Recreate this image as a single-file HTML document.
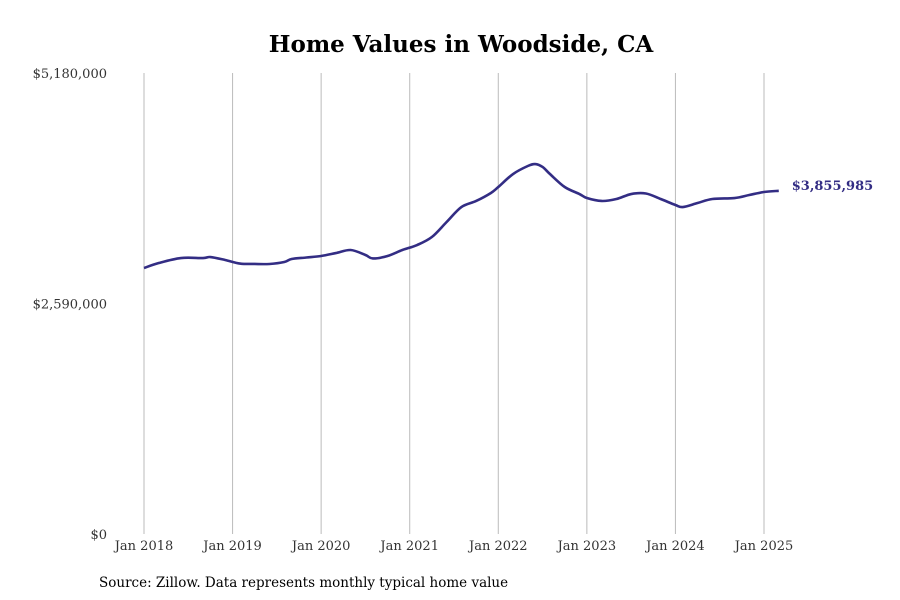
<!DOCTYPE html>
<html><head><meta charset="utf-8"><style>
body{margin:0;background:#fff;}
svg{display:block;font-family:"DejaVu Serif","Liberation Serif",serif;}
</style></head><body>
<svg id="chart" width="900" height="600" viewBox="0 0 900 600">
<text x="461" y="52" text-anchor="middle" font-size="23" font-weight="bold" fill="#000">Home Values in Woodside, CA</text>
<g id="grid"></g>
<g id="yaxis"></g>
<g id="xaxis"></g>
<path id="line" fill="none" stroke="#332d84" stroke-width="2.6" stroke-linejoin="round"/>
<text id="endlabel" font-size="13" font-weight="bold" fill="#332d84"></text>
<text x="99" y="587" font-size="13.5" fill="#000">Source: Zillow. Data represents monthly typical home value</text>
</svg>
<script>
const months=[0,2,5,8,9,11,13,15,17,19,20,22,24,26,28,30,31,33,35,37,39,41,43,45,47,48,50,52,53,54,55,57,59,60,62,64,66,68,70,72,73,75,77,80,82,84,86];
const values=[2989,3045,3101,3101,3112,3079,3039,3034,3034,3056,3090,3107,3124,3157,3191,3135,3096,3124,3191,3247,3337,3506,3674,3742,3832,3899,4045,4135,4157,4124,4045,3899,3820,3775,3742,3764,3820,3826,3764,3697,3674,3719,3764,3775,3809,3843,3856];
const yTicks=[0,2590000,5180000];
const yTickLabels=["$0","$2,590,000","$5,180,000"];
const xTickYears=[2018,2019,2020,2021,2022,2023,2024,2025];
const endLabel="$3,855,985";
const ns="http://www.w3.org/2000/svg";
const x=m=>144+m*(620/84);
const y=v=>534-v/5180000*461;
const grid=document.getElementById('grid'),xa=document.getElementById('xaxis'),ya=document.getElementById('yaxis');
xTickYears.forEach((yr,i)=>{
 const xx=x((yr-2018)*12);
 const l=document.createElementNS(ns,'line');
 
 
 l.setAttribute('x1',xx);l.setAttribute('x2',xx);l.setAttribute('y1',73);l.setAttribute('y2',534);
 l.setAttribute('stroke','#bbb');l.setAttribute('stroke-width','1');
 grid.appendChild(l);
 const t=document.createElementNS(ns,'text');
 
 
 t.setAttribute('x',xx);t.setAttribute('y',550);t.setAttribute('text-anchor','middle');
 t.setAttribute('font-size','13');t.setAttribute('fill','#333');
 t.textContent='Jan '+yr;xa.appendChild(t);
});
yTicks.forEach((v,i)=>{
 const t=document.createElementNS(ns,'text');
 
 
 t.setAttribute('x',107);t.setAttribute('y',y(v)+5);t.setAttribute('text-anchor','end');
 t.setAttribute('font-size','13');t.setAttribute('fill','#333');
 t.textContent=yTickLabels[i];ya.appendChild(t);
});
const pts=months.map((m,i)=>[x(m),y(values[i]*1000)]);
let d='M'+pts[0][0]+','+pts[0][1];
for(let i=0;i<pts.length-1;i++){
 const p0=pts[Math.max(0,i-1)],p1=pts[i],p2=pts[i+1],p3=pts[Math.min(pts.length-1,i+2)];
 const c1=[p1[0]+(p2[0]-p0[0])/6,p1[1]+(p2[1]-p0[1])/6];
 const c2=[p2[0]-(p3[0]-p1[0])/6,p2[1]-(p3[1]-p1[1])/6];
 d+=' C'+c1[0]+','+c1[1]+' '+c2[0]+','+c2[1]+' '+p2[0]+','+p2[1];
}
document.getElementById('line').setAttribute('d',d);
const last=pts[pts.length-1];
const el=document.getElementById('endlabel');
el.setAttribute('x',last[0]+13);el.setAttribute('y',last[1]-1);
el.textContent=endLabel;
</script>
</body></html>
